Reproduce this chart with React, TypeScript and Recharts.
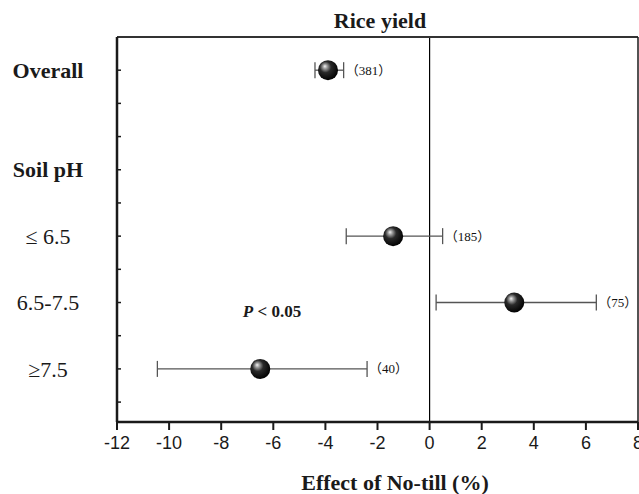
import React from "react";
import {
  ErrorBar,
  ReferenceLine,
  Scatter,
  ScatterChart,
  XAxis,
  YAxis
} from "recharts";

// forest plot: rice yield response to no-till, by soil pH
const groups = ["Overall", "≤ 6.5", "6.5-7.5", "≥7.5"];
const groupRows = [1, 6, 8, 10];
const effectMean = [-3.9, -1.4, 3.25, -6.5];
const effectLow = [-4.4, -3.2, 0.25, -10.45];
const effectHigh = [-3.3, 0.5, 6.4, -2.4];
const sampleSize = [381, 185, 75, 40];

const rowLabels = ["Overall", "Soil pH", "≤ 6.5", "6.5-7.5", "≥7.5"];
const rowLabelRows = [1, 4, 6, 8, 10];
const headerLabels = ["Overall", "Soil pH"];

const xTicks = [-12, -10, -8, -6, -4, -2, 0, 2, 4, 6, 8];
const yTicks = [1, 2, 3, 4, 5, 6, 7, 8, 9, 10, 11];

const pNote = { x: -6.05, row: 8.25 };

const points = groups.map((name, i) => ({
  name,
  x: effectMean[i],
  row: groupRows[i],
  err: [effectMean[i] - effectLow[i], effectHigh[i] - effectMean[i]]
}));

const countLabels = groups.map((name, i) => ({
  name,
  x: effectHigh[i],
  row: groupRows[i],
  n: `（${sampleSize[i]}）`
}));

const serif = '"Liberation Serif", "Times New Roman", serif';
const ink = "#1a1a1a";

function Ball(props: any) {
  const { cx, cy, index } = props;
  const id = `ball-${index}`;
  return (
    <g>
      <defs>
        <radialGradient id={id} cx="42%" cy="40%" r="62%" fx="34%" fy="30%">
          <stop offset="0%" stopColor="#f4f4f4" />
          <stop offset="18%" stopColor="#9c9c9c" />
          <stop offset="45%" stopColor="#2a2a2a" />
          <stop offset="100%" stopColor="#000" />
        </radialGradient>
      </defs>
      <circle cx={cx} cy={cy} r={10} fill={`url(#${id})`} />
    </g>
  );
}

function CountText(props: any) {
  const { cx, cy, payload } = props;
  return (
    <text
      x={cx + 2}
      y={cy}
      dy="0.35em"
      fontSize={13}
      fontFamily={'"Liberation Serif", "Noto Sans CJK SC", serif'}
      fill="#111"
      stroke="none"
    >
      {payload.n}
    </text>
  );
}

function PText(props: any) {
  const { cx, cy } = props;
  return (
    <text
      x={cx}
      y={cy}
      dy="0.35em"
      textAnchor="middle"
      fontSize={17}
      fontWeight={700}
      fontFamily={serif}
      fill={ink}
      stroke="none"
    >
      <tspan fontStyle="italic">P</tspan>
      {" < 0.05"}
    </text>
  );
}

function RowTick(props: any) {
  const { x, y, payload } = props;
  const i = rowLabelRows.indexOf(payload.value);
  const label = i >= 0 ? rowLabels[i] : null;
  return (
    <g>
      <line x1={x} x2={x + 4} y1={y} y2={y} stroke={ink} strokeWidth={1.5} />
      {label && (
        <text
          x={x - 69}
          y={y}
          dy="0.35em"
          textAnchor="middle"
          fontSize={22}
          fontWeight={headerLabels.includes(label) ? 700 : 400}
          fontFamily={serif}
          fill={ink}
        >
          {label}
        </text>
      )}
    </g>
  );
}

export default function App() {
  return (
    <div
      style={{
        position: "absolute",
        left: 0,
        top: 0,
        width: 639,
        height: 494,
        background: "#fff"
      }}
    >
      <div
        style={{
          position: "absolute",
          left: 280,
          width: 200,
          top: 10,
          lineHeight: "22px",
          textAlign: "center",
          fontFamily: serif,
          fontWeight: 700,
          fontSize: 22,
          color: ink
        }}
      >
        Rice yield
      </div>
      <ScatterChart
        width={639}
        height={494}
        margin={{ top: 37, right: 1, bottom: 42, left: 0 }}
      >
        <XAxis
          dataKey="x"
          type="number"
          domain={[-12, 8]}
          ticks={xTicks}
          interval={0}
          height={30}
          tickSize={8}
          tickMargin={6}
          axisLine={{ stroke: ink, strokeWidth: 2.5 }}
          tickLine={{ stroke: ink, strokeWidth: 2 }}
          tick={{ fontSize: 18, fontFamily: '"Liberation Sans", Arial, sans-serif', fill: ink }}
        />
        <XAxis
          xAxisId="top"
          dataKey="x"
          orientation="top"
          type="number"
          domain={[-12, 8]}
          ticks={xTicks}
          interval={0}
          height={1}
          mirror
          tickSize={4}
          tick={false}
          axisLine={{ stroke: "#333", strokeWidth: 2 }}
          tickLine={{ stroke: "#333", strokeWidth: 1.5 }}
        />
        <YAxis
          dataKey="row"
          type="number"
          domain={[0, 11.6]}
          reversed
          ticks={yTicks}
          interval={0}
          width={117}
          tickSize={0}
          tickMargin={0}
          tickLine={false}
          axisLine={{ stroke: ink, strokeWidth: 2.5 }}
          tick={<RowTick />}
        />
        <YAxis
          yAxisId="r"
          dataKey="row"
          orientation="right"
          type="number"
          domain={[0, 11.6]}
          reversed
          ticks={yTicks}
          interval={0}
          width={1}
          mirror
          tickSize={4}
          tick={false}
          axisLine={{ stroke: ink, strokeWidth: 1.5 }}
          tickLine={{ stroke: ink, strokeWidth: 1.5 }}
        />
        <ReferenceLine x={0} stroke="#000" strokeWidth={1.2} />
        <Scatter data={points} shape={<Ball />} isAnimationActive={false}>
          <ErrorBar
            dataKey="err"
            direction="x"
            width={8}
            stroke="#555"
            strokeWidth={1.3}
            isAnimationActive={false}
          />
        </Scatter>
        <Scatter data={countLabels} shape={<CountText />} isAnimationActive={false} />
        <Scatter data={[pNote]} shape={<PText />} isAnimationActive={false} />
      </ScatterChart>
      <div
        style={{
          position: "absolute",
          left: 245,
          width: 300,
          top: 472,
          lineHeight: "22px",
          textAlign: "center",
          fontFamily: serif,
          fontWeight: 700,
          fontSize: 22,
          color: ink
        }}
      >
        Effect of No-till (%)
      </div>
    </div>
  );
}
